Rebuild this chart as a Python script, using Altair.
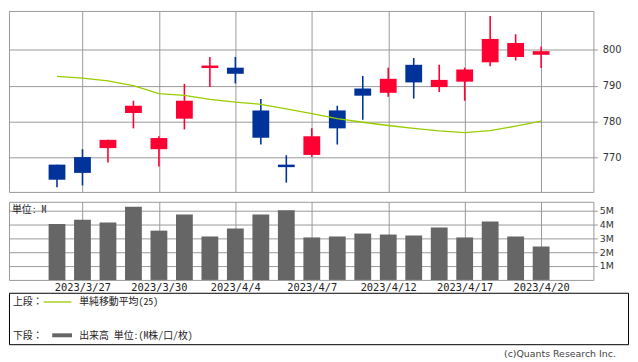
import altair as alt
import pandas as pd

# ---------------- data ----------------
dates = ["2023/3/24", "2023/3/27", "2023/3/28", "2023/3/29", "2023/3/30",
         "2023/3/31", "2023/4/3", "2023/4/4", "2023/4/5", "2023/4/6",
         "2023/4/7", "2023/4/10", "2023/4/11", "2023/4/12", "2023/4/13",
         "2023/4/14", "2023/4/17", "2023/4/18", "2023/4/19", "2023/4/20"]
opens = [768.0, 770.1, 772.6, 782.4, 772.3, 780.8, 794.9, 795.0, 783.1, 768.0,
         770.7, 783.1, 789.2, 788.0, 795.8, 789.6, 791.1, 796.5, 798.0, 798.6]
closes = [763.8, 765.7, 774.9, 784.4, 775.4, 785.8, 795.6, 793.3, 775.5, 767.3,
          775.9, 778.1, 787.2, 791.9, 790.9, 791.6, 794.5, 803.0, 801.9, 799.6]
highs = [768.0, 772.3, 774.9, 785.8, 775.9, 790.5, 798.0, 798.0, 786.3, 770.6,
         778.1, 784.4, 792.7, 795.0, 797.7, 795.8, 795.0, 809.4, 804.3, 800.9]
lows = [761.7, 762.2, 768.6, 778.1, 767.5, 777.8, 789.6, 790.6, 773.6, 763.0,
        770.2, 773.6, 780.5, 786.9, 786.4, 788.2, 785.8, 795.4, 797.0, 794.9]
ma25 = [792.6, 792.1, 791.3, 790.0, 787.8, 787.3, 786.2, 785.4, 784.8, 783.5,
        782.2, 780.8, 779.8, 778.9, 778.1, 777.4, 776.9, 777.5, 778.7, 780.1]
volume_m = [4.02, 4.33, 4.12, 5.26, 3.54, 4.69, 3.12, 3.69, 4.69, 5.00,
            3.05, 3.12, 3.33, 3.26, 3.19, 3.76, 3.05, 4.19, 3.12, 2.40]

tick_dates = ["2023/3/27", "2023/3/30", "2023/4/4", "2023/4/7",
              "2023/4/12", "2023/4/17", "2023/4/20"]
price_ticks = [770, 780, 790, 800]
volume_ticks = [1, 2, 3, 4, 5]

unit_label = "単位: M"
legend_labels = ["上段：", "単純移動平均(25)", "下段：", "出来高 単位:(M株/口/枚)"]
credit = "(c)Quants Research Inc."

# ---------------- styling ----------------
RED = "#ff0033"
BLUE = "#003399"
GREEN = "#99cc00"
GRAY_BAR = "#666666"
GRID = "#999999"
JP_FONT = "Noto Sans Mono CJK JP, Noto Sans CJK JP"

df = pd.DataFrame({
    "idx": list(range(len(dates))),
    "date": dates,
    "open": opens,
    "close": closes,
    "high": highs,
    "low": lows,
    "ma": ma25,
    "vol": volume_m,
})

tick_idx = [dates.index(d) for d in tick_dates]
label_expr = "[" + ",".join("'" + d + "'" for d in dates) + "][datum.value]"

W = 591
xscale = alt.Scale(domain=[-1.69, 20.858], nice=False, zero=False)

x_upper = alt.X("idx:Q", scale=xscale,
                axis=alt.Axis(values=tick_idx, grid=True, labels=False, ticks=False,
                              tickSize=0, domain=False, title=None))
x_lower = alt.X("idx:Q", scale=xscale,
                axis=alt.Axis(values=tick_idx, grid=True, labels=True, ticks=False,
                              tickSize=0, domain=False, title=None,
                              labelExpr=label_expr, labelFont="DejaVu Sans Mono",
                              labelFontSize=10.5, labelColor="#222",
                              labelBaseline="alphabetic", labelPadding=10.7,
                              labelFlush=False, labelOverlap=False))

yscale = alt.Scale(domain=[760.4, 810.8], nice=False, zero=False)
yaxis = alt.Axis(values=price_ticks, orient="right", title=None, domain=False,
                 tickSize=4, tickColor=GRID, labelPadding=5, labelFontSize=10,
                 labelFont="DejaVu Sans", labelColor="#333", grid=True)

color_cond = alt.condition("datum.close >= datum.open", alt.value(RED), alt.value(BLUE))

base = alt.Chart(df).encode(x=x_upper)
wick = base.mark_rule(strokeWidth=1.6).encode(
    y=alt.Y("low:Q", scale=yscale, axis=yaxis), y2="high:Q", color=color_cond)
body = base.mark_bar(size=17).encode(
    y=alt.Y("open:Q", scale=yscale, axis=yaxis), y2="close:Q", color=color_cond)
ma_line = base.mark_line(color=GREEN, strokeWidth=1.3).encode(
    y=alt.Y("ma:Q", scale=yscale, axis=yaxis))

upper = alt.layer(wick, body, ma_line).properties(width=W, height=183)

vol_bars = alt.Chart(df).mark_bar(size=17, color=GRAY_BAR).encode(
    x=x_lower,
    y=alt.Y("vol:Q", scale=alt.Scale(domain=[0, 5.61], nice=False),
            axis=alt.Axis(values=volume_ticks, orient="right", title=None, domain=False,
                          labelExpr="datum.value + 'M'", tickSize=4, tickColor=GRID,
                          labelPadding=2, labelFontSize=9.5, labelFont="DejaVu Sans",
                          labelColor="#333", grid=True)),
)


def one(**kw):
    return alt.Chart(pd.DataFrame([kw]))


def text_at(txt, x, y, size=10, align="left", font=JP_FONT, color="#222"):
    return one(t=txt).mark_text(align=align, baseline="alphabetic", font=font,
                                fontSize=size, color=color).encode(
        x=alt.value(x), y=alt.value(y), text="t:N")


unit_text = text_at(unit_label, 3, 11.5, size=10)
box = one(k=0).mark_rect(fill="white", fillOpacity=0, stroke="black", strokeWidth=1).encode(
    x=alt.value(0.5), x2=alt.value(626.5), y=alt.value(92.5), y2=alt.value(144.5))
leg1 = text_at(legend_labels[0], 4, 104)
leg1_line = one(k=0).mark_rule(color=GREEN, strokeWidth=1.3).encode(
    x=alt.value(35), x2=alt.value(63), y=alt.value(101.3))
leg1_txt = text_at(legend_labels[1], 71, 104)
leg2 = text_at(legend_labels[2], 4, 139)
leg2_line = one(k=0).mark_rule(color=GRAY_BAR, strokeWidth=4).encode(
    x=alt.value(43.7), x2=alt.value(63.7), y=alt.value(135))
leg2_txt = text_at(legend_labels[3], 71, 139)
credit_txt = text_at(credit, 613.7, 157, size=9.5, align="right",
                     font="DejaVu Sans", color="#444")

lower = alt.layer(vol_bars, unit_text, box, leg1, leg1_line, leg1_txt,
                  leg2, leg2_line, leg2_txt, credit_txt).properties(width=W, height=79)

chart = alt.vconcat(upper, lower, spacing=8).properties(
    padding=0, background="white"
).configure_view(
    stroke=GRID, strokeWidth=1
).configure_axis(
    gridColor=GRID, gridWidth=1
)

chart.save("out.html", embed_options={"renderer": "svg", "actions": False})
